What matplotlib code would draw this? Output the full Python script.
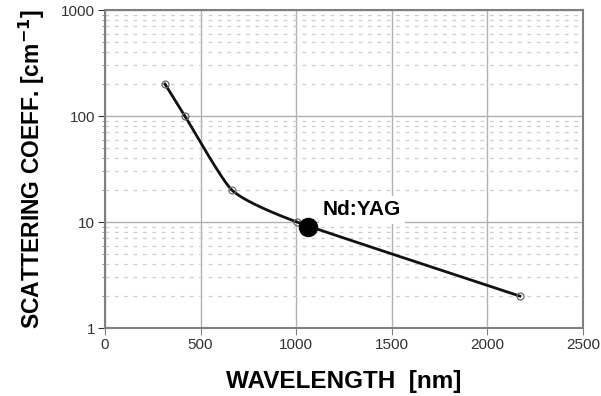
import numpy as np
import matplotlib
matplotlib.use("Agg")
import matplotlib.pyplot as plt
from matplotlib.ticker import NullFormatter, LogLocator

# data
wavelength = [314, 418, 664, 1004, 2170]
scatter = [200, 100, 20, 10, 2]
ndyag_x = [1064]
ndyag_y = [9]
x_ticks = [0, 500, 1000, 1500, 2000, 2500]
y_ticks = [1, 10, 100, 1000]
y_ticklabels = ["1", "10", "100", "1000"]

plt.rcParams['font.family'] = ['Liberation Sans', 'DejaVu Sans']

def cardinal_spline(xs, ys, xscale, yscale, tension=0.45, n=40):
    # smooth curve through the given points, computed in screen-like space
    X = np.asarray(xs, float) / xscale
    Y = np.log10(np.asarray(ys, float)) / yscale
    P = np.column_stack([X, Y])
    m = np.zeros_like(P)
    m[1:-1] = (1 - tension) * (P[2:] - P[:-2]) / 2
    m[0] = (1 - tension) * (P[1] - P[0])
    m[-1] = (1 - tension) * (P[-1] - P[-2])
    out = []
    t = np.linspace(0, 1, n)[:, None]
    h00 = 2 * t**3 - 3 * t**2 + 1
    h10 = t**3 - 2 * t**2 + t
    h01 = -2 * t**3 + 3 * t**2
    h11 = t**3 - t**2
    for i in range(len(P) - 1):
        seg = h00 * P[i] + h10 * m[i] + h01 * P[i + 1] + h11 * m[i + 1]
        out.append(seg)
    out = np.vstack(out)
    return out[:, 0] * xscale, 10 ** (out[:, 1] * yscale)

fig = plt.figure(figsize=(6.01, 3.96), dpi=100)
ax = fig.add_axes([0.1747, 0.1717, 0.7953, 0.8030])
ax.set_yscale('log')
ax.set_xlim(0, 2500)
ax.set_ylim(1, 1000)

ax.set_xticks(x_ticks)
ax.set_yticks(y_ticks)
ax.set_yticklabels(y_ticklabels)
ax.yaxis.set_minor_locator(LogLocator(base=10, subs=np.arange(2, 10)))
ax.yaxis.set_minor_formatter(NullFormatter())

ax.grid(which='major', axis='both', color='#b0b0b0', lw=1.0)
ax.grid(which='minor', axis='y', color='#cccccc', lw=0.9, ls=(0, (3, 4.5)))
ax.set_axisbelow(True)

for s in ax.spines.values():
    s.set_color('#808080')
    s.set_linewidth(1.5)

ax.tick_params(axis='both', which='major', labelsize=11, colors='#333333',
               length=5, width=0.8, pad=2)
ax.tick_params(axis='y', which='minor', length=2.5, width=0.6, colors='#808080')
ax.tick_params(axis='x', which='major', color='#808080')

cx, cy = cardinal_spline(wavelength, scatter, 2500 / 478.0, 3 / 318.0)
ax.plot(cx, cy, color='#111111', lw=2.0, zorder=3)
ax.plot(wavelength, scatter, 'o', ms=5, mfc='none', mec='#666666', mew=0.9, zorder=4)
ax.plot(ndyag_x, ndyag_y, 'o', ms=13, color='black', zorder=5)

ax.text(1140, 13, 'Nd:YAG', fontsize=15, fontweight='bold', va='center', ha='left',
        bbox=dict(facecolor='white', edgecolor='none', pad=3), zorder=4)

ax.set_xlabel('WAVELENGTH  [nm]', fontsize=17.5, fontweight='bold', labelpad=13)
ax.set_ylabel('SCATTERING COEFF. [cm$^{\\mathbf{-1}}$]', fontsize=16.5, fontweight='bold', labelpad=10)

fig.savefig('out.png', dpi=100)
